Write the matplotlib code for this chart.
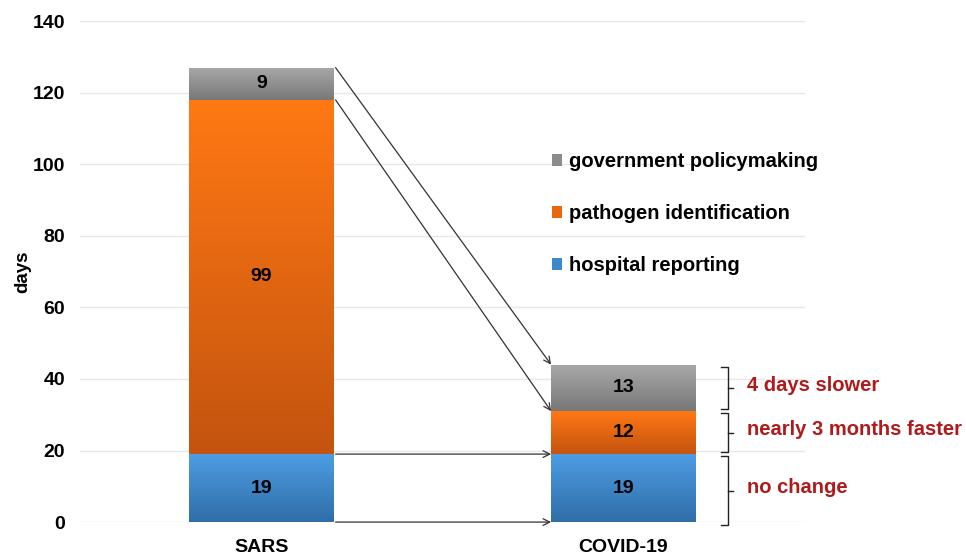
import numpy as np
import matplotlib.pyplot as plt
from matplotlib.patches import Patch
from matplotlib.colors import LinearSegmentedColormap

plt.rcParams['font.family'] = ['Liberation Sans', 'DejaVu Sans']
plt.rcParams['font.weight'] = 'bold'

# data
categories = ["SARS", "COVID-19"]
hospital = [19, 19]
pathogen = [99, 12]
government = [9, 13]
series_names = ["hospital reporting", "pathogen identification", "government policymaking"]
notes = ["no change", "nearly 3 months faster", "4 days slower"]

# gradient colours (top, bottom)
grads = [("#4d9de3", "#2f6ea8"), ("#ff7814", "#c4540f"), ("#a8a8a8", "#787878")]
legend_cols = ["#3f88cc", "#e8680f", "#8c8c8c"]

fig = plt.figure(figsize=(9.66, 5.56), dpi=100)
ax = fig.add_axes([0.083, 0.061, 0.75, 0.901])

x = np.arange(len(categories))
width = 0.4
bottoms = np.zeros(len(categories))
for vals, (ctop, cbot) in zip([hospital, pathogen, government], grads):
    bars = ax.bar(x, vals, width, bottom=bottoms, facecolor="none", edgecolor="none", zorder=2)
    cmap = LinearSegmentedColormap.from_list("g", [cbot, ctop])
    for b, v in zip(bars, vals):
        x0, y0 = b.get_x(), b.get_y()
        im = ax.imshow(np.linspace(0, 1, 100).reshape(-1, 1), cmap=cmap, origin="lower",
                       extent=[x0, x0 + b.get_width(), y0, y0 + b.get_height()],
                       aspect="auto", zorder=2)
        im.set_clip_path(b)
        ax.text(x0 + b.get_width() / 2, y0 + v / 2, str(v), ha="center", va="center",
                fontsize=14, fontweight="bold", zorder=3)
    bottoms = bottoms + np.array(vals)

ax.set_xlim(-0.5, 1.5)
ax.set_ylim(0, 140)
ax.set_yticks(range(0, 141, 20))
ax.set_xticks(x)
ax.set_xticklabels(categories, fontsize=14, fontweight="bold")
ax.tick_params(axis="y", labelsize=14, length=0, pad=11)
ax.tick_params(axis="x", length=0, pad=12)
ax.set_ylabel("days", fontsize=13.5, fontweight="bold", labelpad=1)
ax.grid(axis="y", color="#e8e8e8", linewidth=1, zorder=0)
ax.set_axisbelow(True)
for s in ax.spines.values():
    s.set_visible(False)

# connecting arrows between stack boundaries
sars_lv = np.concatenate([[0], np.cumsum([hospital[0], pathogen[0], government[0]])])
cov_lv = np.concatenate([[0], np.cumsum([hospital[1], pathogen[1], government[1]])])
for a, b in zip(sars_lv, cov_lv):
    ax.annotate("", xy=(1 - width / 2, b), xytext=(width / 2 + 0.005, a),
                arrowprops=dict(arrowstyle="->", color="#333333", lw=0.9,
                                shrinkA=0, shrinkB=0, mutation_scale=12), zorder=4)

# braces with notes
bx = 1 + width / 2 + 0.087
for lo, hi, note in zip(cov_lv[:-1], cov_lv[1:], notes):
    y0 = lo - 0.8 if lo == 0 else lo + 0.6
    y1 = hi - 0.6
    ym = (y0 + y1) / 2
    ax.plot([bx - 0.017, bx, bx, bx - 0.017], [y0, y0, y1, y1], color="#222222", lw=1.0,
            clip_on=False)
    ax.plot([bx, bx + 0.014], [ym, ym], color="#222222", lw=1.0, clip_on=False)
    ax.text(bx + 0.055, ym + 0.8, note, color="#b01a1a", fontsize=14.5,
            fontweight="bold", va="center", ha="left", clip_on=False)

handles = [Patch(facecolor=c) for c in legend_cols[::-1]]
ax.legend(handles, series_names[::-1], loc="upper left", bbox_to_anchor=(0.64, 0.755),
          frameon=False, fontsize=14.5, handlelength=0.5, handleheight=0.5,
          handletextpad=0.35, labelspacing=1.65, borderaxespad=0)

fig.savefig("out.png", dpi=100)
